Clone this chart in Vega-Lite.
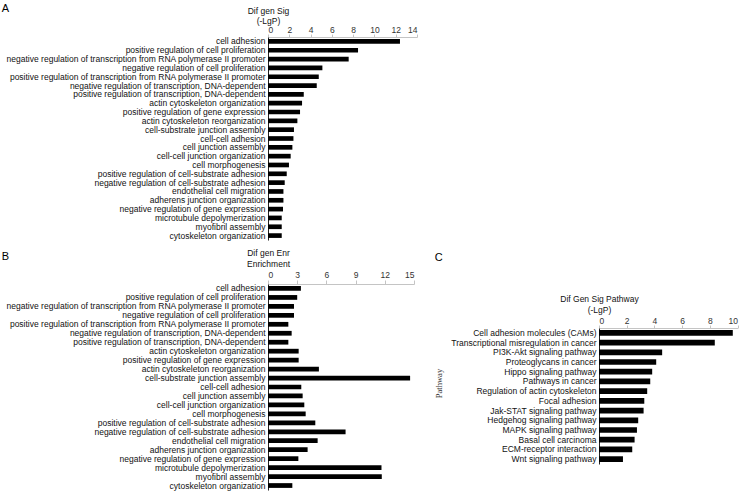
{
  "$schema": "https://vega.github.io/schema/vega-lite/v6.json",
  "padding": {"left": 1, "top": 3, "right": 3, "bottom": 4},
  "background": "white",
  "config": {
    "font": "Liberation Sans",
    "view": {"stroke": null},
    "axis": {"labelFont": "Liberation Sans", "labelFontSize": 8.5, "titleFont": "Liberation Sans", "titleFontSize": 8.5, "titleFontWeight": "normal", "labelColor": "#111", "titleColor": "#111", "grid": false, "labelLimit": 0},
    "axisY": {"domainColor": "#222", "ticks": false, "labelPadding": 3},
    "axisX": {"domainColor": "#c4c4c4", "tickColor": "#c4c4c4", "labelColor": "#333"},
    "title": {"font": "Liberation Sans", "fontSize": 11, "fontWeight": "normal", "anchor": "start", "color": "#000", "baseline": "bottom"}
  },
  "datasets": {
    "a": [
      {"term": "cell adhesion", "value": 12.4},
      {"term": "positive regulation of cell proliferation", "value": 8.46},
      {"term": "negative regulation of transcription from RNA polymerase II promoter", "value": 7.58},
      {"term": "negative regulation of cell proliferation", "value": 5.11},
      {"term": "positive regulation of transcription from RNA polymerase II promoter", "value": 4.77},
      {"term": "negative regulation of transcription, DNA-dependent", "value": 4.58},
      {"term": "positive regulation of transcription, DNA-dependent", "value": 3.36},
      {"term": "actin cytoskeleton organization", "value": 3.2},
      {"term": "positive regulation of gene expression", "value": 3.01},
      {"term": "actin cytoskeleton reorganization", "value": 2.76},
      {"term": "cell-substrate junction assembly", "value": 2.44},
      {"term": "cell-cell adhesion", "value": 2.39},
      {"term": "cell junction assembly", "value": 2.29},
      {"term": "cell-cell junction organization", "value": 2.13},
      {"term": "cell morphogenesis", "value": 1.97},
      {"term": "positive regulation of cell-substrate adhesion", "value": 1.76},
      {"term": "negative regulation of cell-substrate adhesion", "value": 1.57},
      {"term": "endothelial cell migration", "value": 1.45},
      {"term": "adherens junction organization", "value": 1.45},
      {"term": "negative regulation of gene expression", "value": 1.41},
      {"term": "microtubule depolymerization", "value": 1.29},
      {"term": "myofibril assembly", "value": 1.29},
      {"term": "cytoskeleton organization", "value": 1.29}
    ],
    "b": [
      {"term": "cell adhesion", "value": 3.38},
      {"term": "positive regulation of cell proliferation", "value": 3.0},
      {"term": "negative regulation of transcription from RNA polymerase II promoter", "value": 2.67},
      {"term": "negative regulation of cell proliferation", "value": 2.67},
      {"term": "positive regulation of transcription from RNA polymerase II promoter", "value": 2.09},
      {"term": "negative regulation of transcription, DNA-dependent", "value": 2.43},
      {"term": "positive regulation of transcription, DNA-dependent", "value": 2.09},
      {"term": "actin cytoskeleton organization", "value": 3.15},
      {"term": "positive regulation of gene expression", "value": 3.15},
      {"term": "actin cytoskeleton reorganization", "value": 5.23},
      {"term": "cell-substrate junction assembly", "value": 14.6},
      {"term": "cell-cell adhesion", "value": 3.42},
      {"term": "cell junction assembly", "value": 3.56},
      {"term": "cell-cell junction organization", "value": 3.73},
      {"term": "cell morphogenesis", "value": 3.87},
      {"term": "positive regulation of cell-substrate adhesion", "value": 4.86},
      {"term": "negative regulation of cell-substrate adhesion", "value": 7.97},
      {"term": "endothelial cell migration", "value": 5.1},
      {"term": "adherens junction organization", "value": 4.07},
      {"term": "negative regulation of gene expression", "value": 3.12},
      {"term": "microtubule depolymerization", "value": 11.66},
      {"term": "myofibril assembly", "value": 11.69},
      {"term": "cytoskeleton organization", "value": 2.5}
    ],
    "c": [
      {"term": "Cell adhesion molecules (CAMs)", "value": 9.66},
      {"term": "Transcriptional misregulation in cancer", "value": 8.36},
      {"term": "PI3K-Akt signaling pathway", "value": 4.56},
      {"term": "Proteoglycans in cancer", "value": 4.13},
      {"term": "Hippo signaling pathway", "value": 3.84},
      {"term": "Pathways in cancer", "value": 3.7},
      {"term": "Regulation of actin cytoskeleton", "value": 3.48},
      {"term": "Focal adhesion", "value": 3.27},
      {"term": "Jak-STAT signaling pathway", "value": 3.22},
      {"term": "Hedgehog signaling pathway", "value": 2.83},
      {"term": "MAPK signaling pathway", "value": 2.74},
      {"term": "Basal cell carcinoma", "value": 2.57},
      {"term": "ECM-receptor interaction", "value": 2.4},
      {"term": "Wnt signaling pathway", "value": 1.73}
    ]
  },
  "spacing": 8,
  "vconcat": [
    {
      "title": {"text": "A", "offset": -8, "dx": -4},
      "width": 149,
      "height": 203,
      "data": {"name": "a"},
      "mark": {"type": "bar", "color": "#000"},
      "encoding": {
        "y": {"field": "term", "type": "nominal", "sort": null, "scale": {"paddingInner": 0.47, "paddingOuter": 0.235}, "axis": {"title": null}},
        "x": {"field": "value", "type": "quantitative", "scale": {"domain": [0, 14], "nice": false},
          "axis": {"orient": "top", "values": [0, 2, 4, 6, 8, 10, 12, 14], "tickSize": 3, "labelPadding": 0,
            "title": ["Dif gen Sig", "(-LgP)"], "titleX": 0, "titleY": -24, "titleAlign": "center", "titleBaseline": "alphabetic", "titleLineHeight": 10}}
      }
    },
    {
      "spacing": 19,
      "hconcat": [
        {
          "title": {"text": "B", "offset": -14, "dx": -4},
          "width": 146,
          "height": 206,
          "data": {"name": "b"},
          "mark": {"type": "bar", "color": "#000"},
          "encoding": {
            "y": {"field": "term", "type": "nominal", "sort": null, "scale": {"paddingInner": 0.47, "paddingOuter": 0.235}, "axis": {"title": null}},
            "x": {"field": "value", "type": "quantitative", "scale": {"domain": [0, 15], "nice": false},
              "axis": {"orient": "top", "values": [0, 3, 6, 9, 12, 15], "tickSize": 4, "labelPadding": 1,
                "title": ["Dif gen Enr", "Enrichment"], "titleX": 0, "titleY": -28.7, "titleAlign": "center", "titleBaseline": "alphabetic", "titleLineHeight": 11.7}}
          }
        },
        {
          "title": {"text": "C", "offset": 21},
          "spacing": 0,
          "vconcat": [
            {
              "width": 1,
              "height": 10,
              "data": {"values": []},
              "mark": {"type": "rect"},
              "encoding": {}
            },
            {
              "width": 138.5,
              "height": 136,
              "data": {"name": "c"},
              "mark": {"type": "bar", "color": "#000"},
              "encoding": {
                "y": {"field": "term", "type": "nominal", "sort": null, "scale": {"paddingInner": 0.41, "paddingOuter": 0.205},
                  "axis": {"title": "Pathway", "titleFont": "Liberation Serif", "titleFontSize": 8.5, "titlePadding": 7, "titleColor": "#333", "titleY": 55}},
                "x": {"field": "value", "type": "quantitative", "scale": {"domain": [0, 10], "nice": false},
                  "axis": {"orient": "top", "values": [0, 2, 4, 6, 8, 10], "tickSize": 3, "labelPadding": 0,
                    "title": ["Dif Gen Sig Pathway", "(-LgP)"], "titleX": 0, "titleY": -27, "titleAlign": "center", "titleBaseline": "alphabetic", "titleLineHeight": 11}}
              }
            }
          ]
        }
      ]
    }
  ]
}
